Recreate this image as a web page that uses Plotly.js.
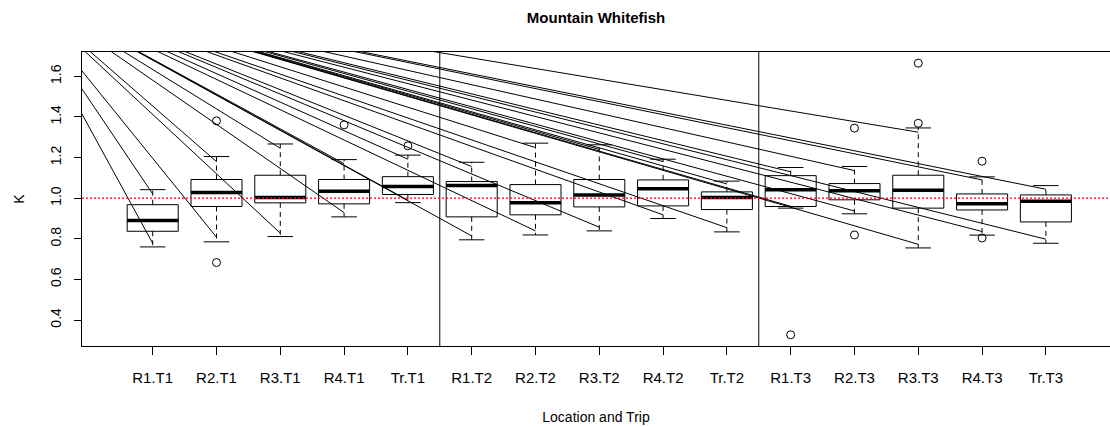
<!DOCTYPE html>
<html>
<head>
<meta charset="utf-8">
<script src="https://cdn.plot.ly/plotly-3.0.1.min.js"></script>
<style>
  html, body { margin: 0; padding: 0; background: #ffffff; }
  #chart { width: 1110px; height: 427px; }
</style>
</head>
<body>
<div id="chart"></div>
<script>
// ---- data ----
const categories = ["R1.T1","R2.T1","R3.T1","R4.T1","Tr.T1","R1.T2","R2.T2","R3.T2","R4.T2","Tr.T2","R1.T3","R2.T3","R3.T3","R4.T3","Tr.T3"];
const lowerWhisker = [0.760,0.785,0.811,0.908,0.978,0.795,0.819,0.839,0.900,0.834,0.951,0.923,0.755,0.818,0.778];
const q1           = [0.837,0.959,0.977,0.972,1.018,0.908,0.918,0.957,0.962,0.944,0.959,0.992,0.951,0.942,0.883];
const medians      = [0.890,1.028,1.003,1.034,1.057,1.062,0.978,1.016,1.047,1.003,1.042,1.037,1.039,0.972,0.985];
const q3           = [0.968,1.092,1.113,1.092,1.106,1.082,1.067,1.092,1.090,1.031,1.111,1.072,1.113,1.021,1.016];
const upperWhisker = [1.042,1.205,1.267,1.190,1.212,1.177,1.271,1.263,1.192,1.084,1.151,1.156,1.346,1.105,1.062];
const outlierGroup = ["R2.T1","R2.T1","R4.T1","Tr.T1","R1.T3","R2.T3","R2.T3","R3.T3","R3.T3","R4.T3","R4.T3"];
const outlierK     = [1.381,0.683,1.361,1.258,0.327,1.345,0.819,1.369,1.665,1.182,0.804];
// end points of the straight lines (lower / upper), one pair per group
const lineLow  = [0.778,0.808,0.828,0.929,0.990,0.814,0.839,0.857,0.918,0.855,0.960,0.937,0.773,0.836,0.798];
const lineHigh = [1.021,1.180,1.246,1.170,1.192,1.156,1.249,1.240,1.180,1.070,1.130,1.136,1.325,1.090,1.044];
// common start point of all the straight lines (data units)
const lineSourceX = -1.25;
const lineSourceY = 2.07;
const referenceK = 1.0;
const tripSeparators = [5.5, 10.5];
const yTicks = [0.4,0.6,0.8,1.0,1.2,1.4,1.6];

// ---- build geometry from the data ----
const pos = categories.map((c, i) => i + 1);
const halfBox = 0.4, halfCap = 0.2;

const boxX = [], boxY = [];
const medX = [], medY = [];
const whiskX = [], whiskY = [];
const capX = [], capY = [];
const segX = [], segY = [];
pos.forEach((p, i) => {
  boxX.push(p - halfBox, p + halfBox, p + halfBox, p - halfBox, p - halfBox, null);
  boxY.push(q1[i], q1[i], q3[i], q3[i], q1[i], null);
  medX.push(p - halfBox, p + halfBox, null);
  medY.push(medians[i], medians[i], null);
  whiskX.push(p, p, null, p, p, null);
  whiskY.push(q3[i], upperWhisker[i], null, q1[i], lowerWhisker[i], null);
  capX.push(p - halfCap, p + halfCap, null, p - halfCap, p + halfCap, null);
  capY.push(upperWhisker[i], upperWhisker[i], null, lowerWhisker[i], lowerWhisker[i], null);
  segX.push(lineSourceX, p, null, lineSourceX, p, null);
  segY.push(lineSourceY, lineLow[i], null, lineSourceY, lineHigh[i], null);
});
const outX = outlierGroup.map(g => categories.indexOf(g) + 1);

const lineStyle = {color: "#000000", width: 1};
const traces = [
  {type: "scatter", mode: "lines", x: boxX, y: boxY, line: lineStyle, hoverinfo: "skip", showlegend: false},
  {type: "scatter", mode: "lines", x: whiskX, y: whiskY, line: {color: "#000000", width: 1, dash: "5px,4px"}, hoverinfo: "skip", showlegend: false},
  {type: "scatter", mode: "lines", x: capX, y: capY, line: lineStyle, hoverinfo: "skip", showlegend: false},
  {type: "scatter", mode: "lines", x: medX, y: medY, line: {color: "#000000", width: 3.5}, hoverinfo: "skip", showlegend: false},
  {type: "scatter", mode: "markers", x: outX, y: outlierK,
   marker: {symbol: "circle-open", size: 8, color: "#000000", line: {width: 1, color: "#000000"}},
   showlegend: false},
  {type: "scatter", mode: "lines", x: segX, y: segY, line: lineStyle, hoverinfo: "skip", showlegend: false}
];

const shapes = tripSeparators.map(v => ({
  type: "line", xref: "x", yref: "paper", x0: v, x1: v, y0: 0, y1: 1,
  line: {color: "#000000", width: 1}
}));
shapes.push({
  type: "line", xref: "paper", yref: "y", x0: 0, x1: 1, y0: referenceK, y1: referenceK,
  line: {color: "#ff0000", width: 1.2, dash: "2px,2px"}
});

const font = "'Liberation Sans', Arial, sans-serif";
const layout = {
  width: 1110, height: 427,
  margin: {l: 82, r: 0, t: 52, b: 81, pad: 0},
  paper_bgcolor: "#ffffff", plot_bgcolor: "#ffffff",
  font: {family: font, color: "#000000", size: 14},
  title: {text: "<b>Mountain Whitefish</b>", font: {family: font, size: 15, color: "#000000"},
          x: 0.5, xref: "paper", y: 1 - 18/427, yref: "container", yanchor: "middle"},
  xaxis: {
    range: [-0.108, 16.005], tickvals: pos, ticktext: categories,
    showline: true, mirror: true, linecolor: "#000000", linewidth: 1,
    ticks: "outside", ticklen: 8, tickcolor: "#000000", tickwidth: 1,
    ticklabelstandoff: 10,
    showgrid: false, zeroline: false, tickfont: {size: 15},
    title: {text: "Location and Trip", font: {size: 14}, standoff: 27}
  },
  yaxis: {
    range: [0.272, 1.72], tickvals: yTicks, ticktext: yTicks.map(v => v.toFixed(1)),
    tickangle: -90,
    showline: true, mirror: false, linecolor: "#000000", linewidth: 1,
    ticks: "outside", ticklen: 7, tickcolor: "#000000", tickwidth: 1,
    ticklabelstandoff: 7,
    showgrid: false, zeroline: false, tickfont: {size: 14},
    title: {text: "K", font: {size: 14}, standoff: 20}
  },
  shapes: shapes
};

Plotly.newPlot("chart", traces, layout, {staticPlot: true, displayModeBar: false});
</script>
</body>
</html>
